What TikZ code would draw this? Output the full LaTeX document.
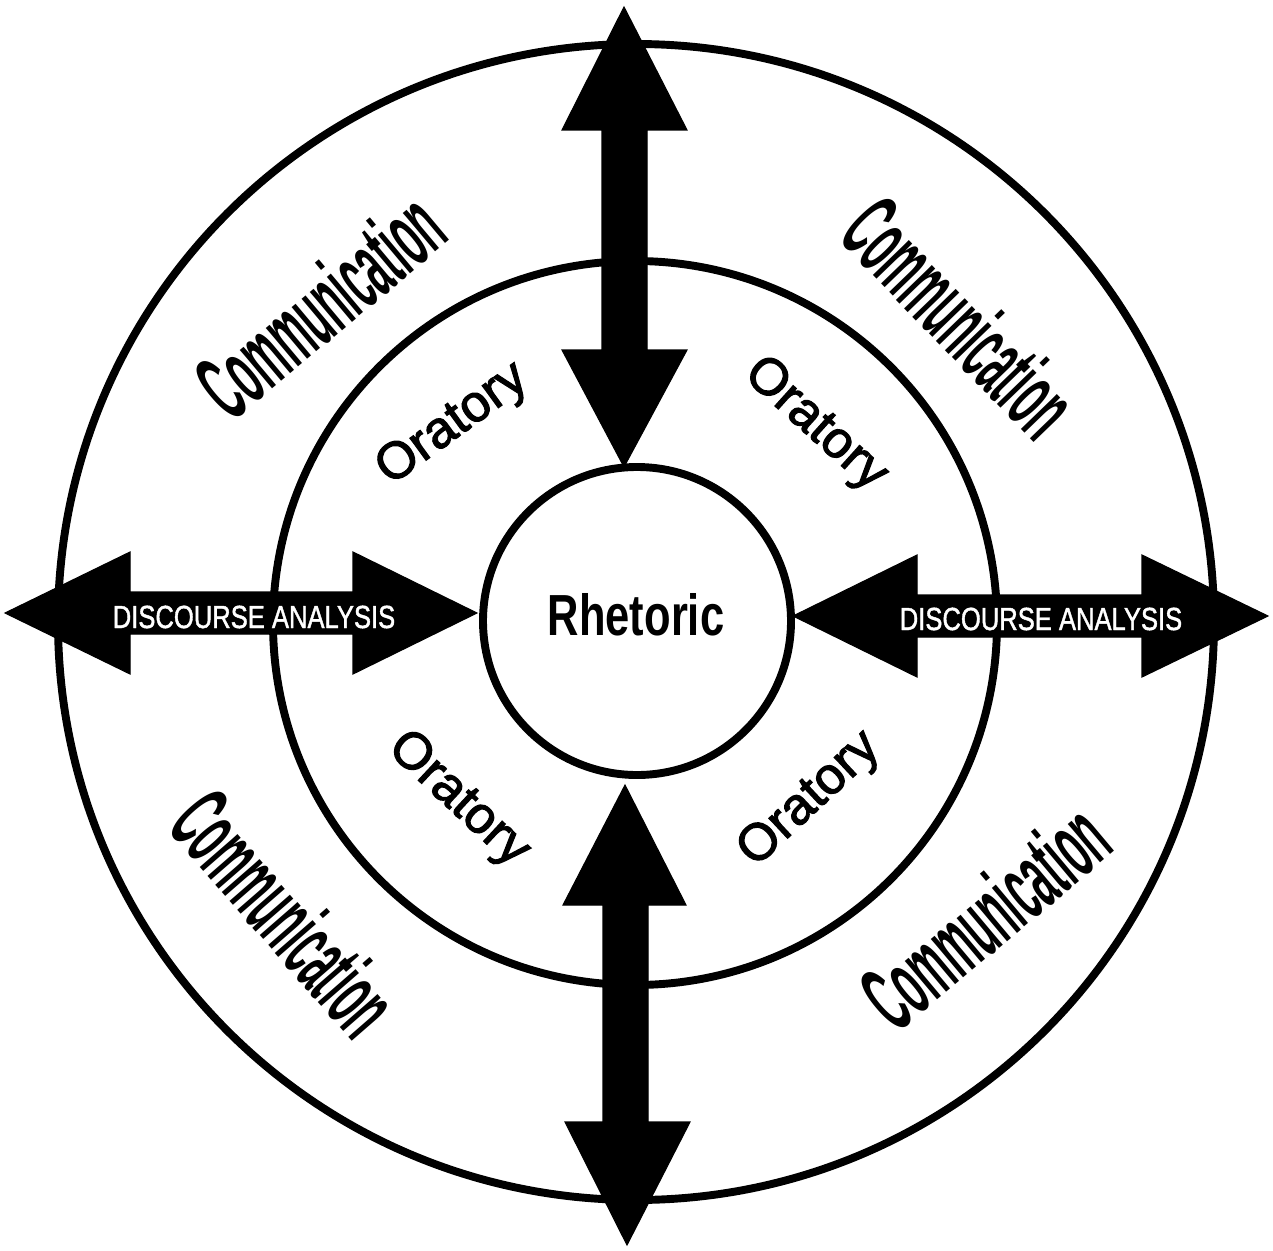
\documentclass[tikz,border=0pt]{standalone}
\usepackage{graphicx}
\usepackage{fontspec}
\setmainfont{Liberation Sans}
\newfontfamily\commfont{Liberation Sans Bold}
\newfontfamily\rhetfont{Liberation Sans Bold}
\newfontfamily\discfont[FakeBold=1.5]{Liberation Sans}
\newfontfamily\orafont[FakeBold=2.2]{Liberation Sans}
\newcommand\commtext{\scalebox{0.40}[1]{\commfont\fontsize{54}{56}\selectfont Communication}}
\begin{document}
\begin{tikzpicture}[x=0.02cm,y=-0.02cm,
  ring/.style={draw=black, line width=4.5pt},
  bigarrow/.style={fill=black, draw=black, line width=0.6pt, line join=miter},
  comm/.style={inner sep=0pt},
  orat/.style={font=\orafont\fontsize{29.5}{31}\selectfont, inner sep=0pt},
  disc/.style={text=white, inner sep=0pt, anchor=base},
  rhet/.style={inner sep=0pt, anchor=base}]
\useasboundingbox (0,0) rectangle (1273,1250);
\fill[white] (0,0) rectangle (1273,1250);
% rings
\draw[ring] (636,622) circle (578);
\draw[ring] (635,623) circle (362);
\draw[ring] (637,621) circle (154);
% arrows
\filldraw[bigarrow] (5,613) -- (130,552) -- (130,592) -- (353,592) -- (353,552) -- (477,613)
  -- (353,674) -- (353,634) -- (130,634) -- (130,674) -- cycle;
\filldraw[bigarrow] (793,616) -- (917,555) -- (917,595) -- (1142,595) -- (1142,555) -- (1268,616)
  -- (1142,677) -- (1142,637) -- (917,637) -- (917,677) -- cycle;
\filldraw[bigarrow] (624,7) -- (562,130) -- (602,130) -- (602,350) -- (562,350) -- (624,467)
  -- (687,350) -- (647,350) -- (647,130) -- (687,130) -- cycle;
\filldraw[bigarrow] (625,785) -- (563,905) -- (603,905) -- (603,1122) -- (565,1122) -- (627,1245)
  -- (690,1122) -- (648,1122) -- (648,905) -- (686,905) -- cycle;
% texts
\node[rhet] (rhetoric) at (636,635) {\scalebox{0.75}[1]{\rhetfont\fontsize{33}{36}\selectfont Rhetoric}};
\node[disc] (discL) at (254,628) {\scalebox{0.80}[1]{\discfont\fontsize{18.2}{20}\selectfont DISCOURSE ANALYSIS}};
\node[disc] (discR) at (1041,630) {\scalebox{0.80}[1]{\discfont\fontsize{18.2}{20}\selectfont DISCOURSE ANALYSIS}};
\node[orat, rotate=36] (oraUL) at (453,425) {Oratory};
\node[orat, rotate=-42] (oraUR) at (815,425) {Oratory};
\node[orat, rotate=-43] (oraLL) at (458,800) {Oratory};
\node[orat, rotate=43] (oraLR) at (810,800) {Oratory};
\node[comm, rotate=40] (comUL) at (320,305) {\commtext};
\node[comm, rotate=-46] (comUR) at (960,317) {\commtext};
\node[comm, rotate=-49] (comLL) at (285,913) {\commtext};
\node[comm, rotate=40] (comLR) at (985,916) {\commtext};
\end{tikzpicture}
\end{document}
